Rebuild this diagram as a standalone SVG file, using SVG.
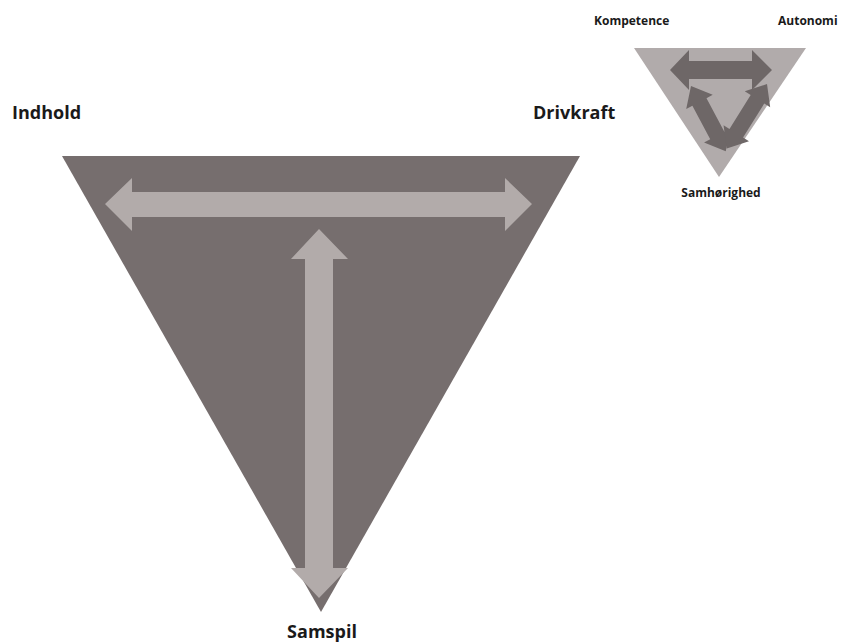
<svg xmlns="http://www.w3.org/2000/svg" width="857" height="643" viewBox="0 0 857 643">
<style>
.lbl{font-family:"Open Sans","Liberation Sans",sans-serif;font-weight:bold;fill:#1a1a1a}
.big{font-size:18px}
.small{font-size:12px}
.la{fill:#b2abaa}
.da{fill:#6e6767}
</style>
<rect width="857" height="643" fill="#ffffff"/>
<g id="big-triangle">
<polygon points="62,156 580,156 321,612" fill="#766e6e"/>
</g>
<g id="small-triangle">
<polygon points="634,48 806,48 719,177" fill="#b1abab"/>
</g>
<g id="connectors">
<polygon class="la" points="105,204 132,178 132,192 505,192 505,178 532,204 505,231 505,217 132,217 132,231"/>
<polygon class="la" points="319,229 348,259 333,259 333,568 348,568 319,598 291,568 305,568 305,259 291,259"/>
<polygon class="da" points="670,70 689,50 689,61 752,61 752,50 772,70 752,90 752,79 689,79 689,90"/>
<g transform="translate(691,86) rotate(62)">
<polygon class="da" points="0,0 18,-15 18,-8 56,-8 56,-15 74,0 56,15 56,8 18,8 18,15"/>
</g>
<g transform="translate(767,84) rotate(122)">
<polygon class="da" points="0,0 18,-15 18,-8 58,-8 58,-15 76,0 58,15 58,8 18,8 18,15"/>
</g>
</g>
<g id="label-indhold"><text class="lbl big" x="12" y="119">Indhold</text></g>
<g id="label-drivkraft"><text class="lbl big" x="533" y="119">Drivkraft</text></g>
<g id="label-samspil"><text class="lbl big" x="322" y="638" text-anchor="middle">Samspil</text></g>
<g id="label-kompetence"><text class="lbl small" x="594" y="25">Kompetence</text></g>
<g id="label-autonomi"><text class="lbl small" x="778" y="25">Autonomi</text></g>
<g id="label-samhorighed"><text class="lbl small" x="721" y="197" text-anchor="middle">Samhørighed</text></g>
</svg>
